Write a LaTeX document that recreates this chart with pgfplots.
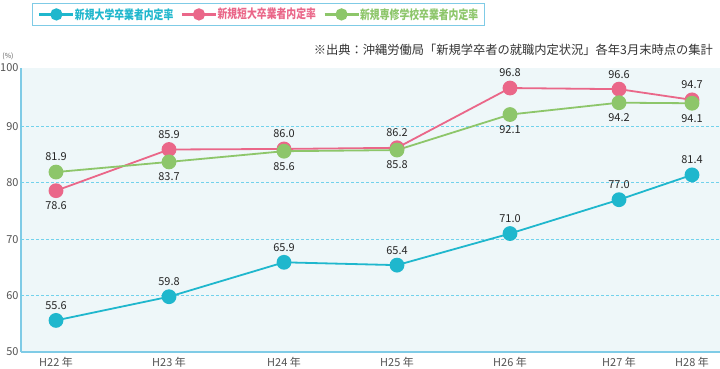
\documentclass[border=0pt]{standalone}
\usepackage{graphicx}
\usepackage{pgfplots}
\pgfplotsset{compat=1.18}
\usepackage{pgfplotstable}
\usepackage{fontspec}
\setmainfont{Noto Sans CJK JP}
\newcommand{\leg}[2]{\textcolor{#1}{\scalebox{0.79}[1]{#2}}}
\definecolor{cblue}{HTML}{1FB7CD}
\definecolor{cpink}{HTML}{EA6789}
\definecolor{cgreen}{HTML}{8DC66A}
\definecolor{axcol}{HTML}{7FCBE6}
\definecolor{gridcol}{HTML}{72D2EC}
\definecolor{bgcol}{HTML}{EEF7F9}
\definecolor{txt}{HTML}{333333}
\pgfplotstableread{
x y p
56 55.6 1
169 59.8 1
284 65.9 1
397 65.4 1
510 71.0 1
619 77.0 1
692 81.4 1
}\univ
\pgfplotstableread{
x y p
56 78.6 -1
169 85.9 1
284 86.0 1
397 86.2 1
510 96.8 1
619 96.6 1
692 94.7 1
}\junior
\pgfplotstableread{
x y p
56 81.9 1
169 83.7 -1
284 85.6 -1
397 85.8 -1
510 92.1 -1
619 94.2 -1
692 94.1 -1
}\senmon
\begin{document}
\begin{tikzpicture}
\begin{axis}[
  name=ax,
  scale only axis,
  width=699bp, height=284bp,
  xmin=21, xmax=720,
  ymin=50, ymax=100.35,
  clip=false,
  axis x line=bottom, axis y line=left,
  axis line style={draw=axcol, line width=1.6bp, -},
  axis background/.style={fill=bgcol},
  major tick length=0pt,
  xtick={56,169,284,397,510,619,692},
  xticklabels={H22 年,H23 年,H24 年,H25 年,H26 年,H27 年,H28 年},
  ytick={50,100},
  yticklabels={50,{\raisebox{5bp}{100}}},
  extra y ticks={60,70,80,90},
  extra y tick style={grid=major},
  major grid style={draw=gridcol, line width=0.9bp, dash pattern=on 3bp off 2bp},
  /pgf/number format/assume math mode=true,
  tick label style={font=\fontsize{11}{12}\selectfont, text=txt!85},
  x tick label style={yshift=-2bp},
  y tick label style={xshift=1bp},
  every axis plot/.append style={line width=1.8bp, mark=*, mark size=6.5bp},
  nodes near coords,
  nodes near coords style={font=\fontsize{11}{12}\selectfont, text=black!85, anchor=center,
     /pgf/number format/fixed, /pgf/number format/fixed zerofill, /pgf/number format/precision=1,
     /pgf/number format/assume math mode=true, yshift=\lp*15bp},
  legend columns=3,
  legend style={at={(axis cs:258.5,109.85)}, anchor=center, draw=axcol, line width=1bp,
     inner xsep=6bp, inner ysep=2.5bp, font=\fontsize{12.5}{13}\bfseries\selectfont,
     nodes={inner xsep=0.5bp},
     /tikz/every even column/.append style={column sep=7bp}},
  legend image code/.code={\draw[line width=2.2bp, mark repeat=2,mark phase=2,mark size=5bp] plot coordinates {(0bp,0bp) (17bp,0bp) (34bp,0bp)};},
]
\addplot[color=cblue, mark options={fill=cblue, draw=cblue}, visualization depends on={\thisrow{p}\as\lp}] table[x=x,y=y,meta=y] {\univ};
\addlegendentry{\leg{cblue}{新規大学卒業者内定率}}
\addplot[color=cpink, mark options={fill=cpink, draw=cpink}, visualization depends on={\thisrow{p}\as\lp}] table[x=x,y=y,meta=y] {\junior};
\addlegendentry{\leg{cpink}{新規短大卒業者内定率}}
\addplot[color=cgreen, mark options={fill=cgreen, draw=cgreen}, visualization depends on={\thisrow{p}\as\lp}] table[x=x,y=y,meta=y] {\senmon};
\addlegendentry{\leg{cgreen}{新規専修学校卒業者内定率}}
\node[anchor=east, font=\fontsize{12.3}{13}\selectfont, text=txt, inner sep=0pt] at (axis cs:713,103.55) {※出典：沖縄労働局「新規学卒者の就職内定状況」各年3月末時点の集計};
\node[font=\fontsize{7}{8}\selectfont, text=txt!80, inner sep=0pt] at (axis cs:8,102.4) {(\%)};
\end{axis}
\pgfresetboundingbox
\path (ax.south west) ++(-21bp,-17bp) rectangle ++(720bp,369bp);
\end{tikzpicture}
\end{document}
